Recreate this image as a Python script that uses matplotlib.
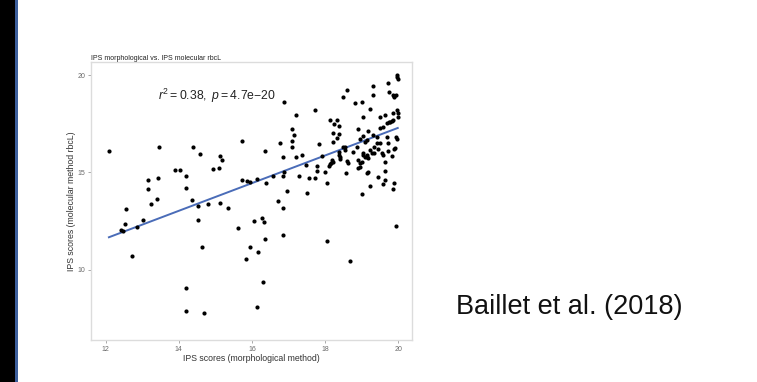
import numpy as np
import matplotlib
matplotlib.use("Agg")
import matplotlib.pyplot as plt
from matplotlib.patches import Rectangle

plt.rcParams['font.family'] = ['Liberation Sans', 'DejaVu Sans']
plt.rcParams['mathtext.fontset'] = 'custom'
plt.rcParams['mathtext.rm'] = 'Liberation Sans'
plt.rcParams['mathtext.it'] = 'Liberation Sans:italic'

# IPS scores: morphological (x) vs molecular rbcL (y)
morph = [
    12.09, 12.43, 12.47, 12.52, 12.55, 12.71, 12.85, 13.02, 13.17, 13.17,
    13.23, 13.41, 13.44, 13.47, 13.91, 14.03, 14.21, 14.19, 14.39, 14.36,
    14.58, 14.54, 14.52, 14.63, 14.21, 14.19, 14.69, 14.79, 14.94, 15.10,
    15.14, 15.19, 15.14, 15.36, 15.62, 15.72, 15.73, 15.83, 15.87, 15.96,
    15.95, 16.05, 16.15, 16.18, 16.15, 16.27, 16.30, 16.34, 16.35, 16.38,
    16.36, 16.58, 16.71, 16.77, 16.84, 16.84, 16.84, 16.88, 16.86, 16.88,
    16.97, 17.10, 17.11, 17.11, 17.15, 17.22, 17.22, 17.28, 17.38, 17.50,
    17.48, 17.57, 17.73, 17.72, 17.77, 17.77, 17.83, 17.93, 17.99, 18.05,
    18.05, 18.14, 18.17, 18.22, 18.14, 18.25, 18.23, 18.23, 18.32, 18.33,
    18.39, 18.39, 18.37, 18.41, 18.41, 18.50, 18.55, 18.57, 18.61, 18.64,
    18.68, 18.77, 18.81, 19.02, 19.30, 19.32, 19.24, 19.73, 19.75, 19.98,
    19.97, 19.99, 19.86, 19.90, 19.94, 19.88, 19.96, 19.99, 19.99, 19.85,
    19.03, 18.89, 19.19, 19.05, 18.97, 19.51, 19.65, 19.70, 19.75, 19.79,
    19.83, 19.85, 19.51, 19.60, 19.32, 19.42, 19.69, 19.95, 19.96, 19.51,
    19.42, 19.73, 19.92, 19.09, 18.87, 18.50, 18.55, 18.39, 19.23, 19.28,
    19.05, 19.14, 19.46, 19.55, 19.58, 19.71, 19.82, 19.89, 18.18, 18.12,
    18.61, 18.91, 18.97, 18.95, 18.91, 19.00, 19.05, 19.10, 19.16, 19.19,
    19.16, 19.18, 19.34, 19.64, 19.23, 19.02, 19.46, 19.64, 19.64, 19.58,
    19.89, 19.87, 19.94, 19.34, 19.14,
]
molec = [
    16.10, 12.05, 12.02, 12.36, 13.13, 10.72, 12.22, 12.58, 14.63, 14.14,
    13.38, 13.64, 14.70, 16.32, 15.14, 15.14, 14.82, 14.21, 16.31, 13.59,
    15.96, 13.28, 12.55, 11.16, 9.09, 7.88, 7.81, 13.38, 15.16, 15.23,
    15.86, 15.63, 13.45, 13.18, 12.17, 16.63, 14.62, 10.56, 14.55, 14.51,
    11.18, 12.53, 14.67, 10.91, 8.07, 12.68, 9.37, 12.46, 16.12, 14.45,
    11.57, 14.84, 13.54, 16.51, 13.20, 15.79, 11.81, 18.63, 14.82, 15.04,
    14.07, 17.21, 16.31, 16.60, 16.92, 17.93, 15.79, 14.84, 15.91, 13.97,
    15.40, 14.73, 18.21, 14.73, 15.35, 15.09, 16.48, 15.86, 15.04, 14.48,
    11.50, 17.69, 15.50, 15.53, 15.45, 17.49, 17.03, 16.56, 17.69, 16.79,
    17.40, 16.96, 15.91, 15.79, 15.71, 18.89, 16.32, 14.96, 19.21, 15.47,
    10.43, 16.06, 18.58, 18.63, 19.45, 18.96, 18.24, 19.61, 19.15, 20.00,
    19.90, 19.80, 19.00, 18.92, 18.98, 18.88, 18.21, 18.04, 17.86, 18.04,
    17.86, 17.21, 17.14, 16.87, 16.70, 17.83, 17.95, 17.55, 17.58, 17.60,
    17.62, 17.70, 17.26, 17.35, 16.92, 16.80, 16.84, 16.80, 16.70, 16.53,
    16.50, 16.50, 16.24, 16.58, 16.32, 16.29, 16.15, 16.07, 16.15, 15.98,
    15.90, 15.78, 16.19, 16.02, 15.90, 16.12, 15.85, 16.19, 15.64, 15.33,
    15.61, 15.64, 15.47, 15.30, 15.21, 15.56, 16.02, 15.81, 15.90, 15.73,
    14.99, 15.01, 16.00, 15.56, 14.31, 13.90, 14.78, 15.09, 14.62, 14.41,
    14.48, 14.14, 12.26, 16.30, 16.67,
]

# linear fit reported on the figure
fit_intercept = 3.09
fit_slope = 0.71
r_squared = 0.38
p_label = '4.7e-20'

x_ticks = [12, 14, 16, 18, 20]
y_ticks = [10, 15, 20]

x = np.array(morph)
y = np.array(molec)

fig = plt.figure(figsize=(7.57, 3.82), dpi=100)
fig.patch.set_facecolor('white')

# slide edge strips
W, H = 757, 382
fig.patches.append(Rectangle((0, 0), 15 / W, 1, transform=fig.transFigure,
                             facecolor='black', edgecolor='none'))
fig.patches.append(Rectangle((15 / W, 0), 2.5 / W, 1, transform=fig.transFigure,
                             facecolor='#3d5f9c', edgecolor='none'))

ax = fig.add_axes([91 / W, 1 - 340 / H, 321 / W, 278 / H])
ax.scatter(x, y, s=9, color='black', linewidths=0, zorder=3)

xs = np.array([x.min(), x.max()])
ax.plot(xs, fit_intercept + fit_slope * xs, color='#4a6cb8', lw=1.4, zorder=2)

ax.set_xlim(11.6, 20.38)
ax.set_ylim(6.4, 20.67)
ax.set_xticks(x_ticks)
ax.set_yticks(y_ticks)
for s in ax.spines.values():
    s.set_color('#dcdcdc')
    s.set_linewidth(1.0)
ax.tick_params(axis='both', length=2, width=0.6, color='#9a9a9a',
               labelsize=5, labelcolor='#6a6a6a', pad=2)

ax.set_xlabel('IPS scores (morphological method)', fontsize=6.3,
              color='#333333', labelpad=1)
ax.set_ylabel('IPS scores (molecular method rbcL)', fontsize=6.3,
              color='#333333', labelpad=1)
ax.set_title('IPS morphological vs. IPS molecular rbcL', fontsize=5,
             loc='left', color='#222222', pad=1.5)

p_base, p_exp = p_label.split('e')
ax.text(13.42, 18.92,
        r'$\it{r}^2 = %.2f,\ \it{p} = %s\mathrm{e}{-}%s$'
        % (r_squared, p_base, p_exp.lstrip('-')),
        fontsize=8.8, color='#222222', va='center', ha='left')

fig.text(456 / W, 1 - 307 / H, 'Baillet et al. (2018)', fontsize=19.5,
         color='#111111', va='center', ha='left')

fig.savefig('out.png', dpi=100)
